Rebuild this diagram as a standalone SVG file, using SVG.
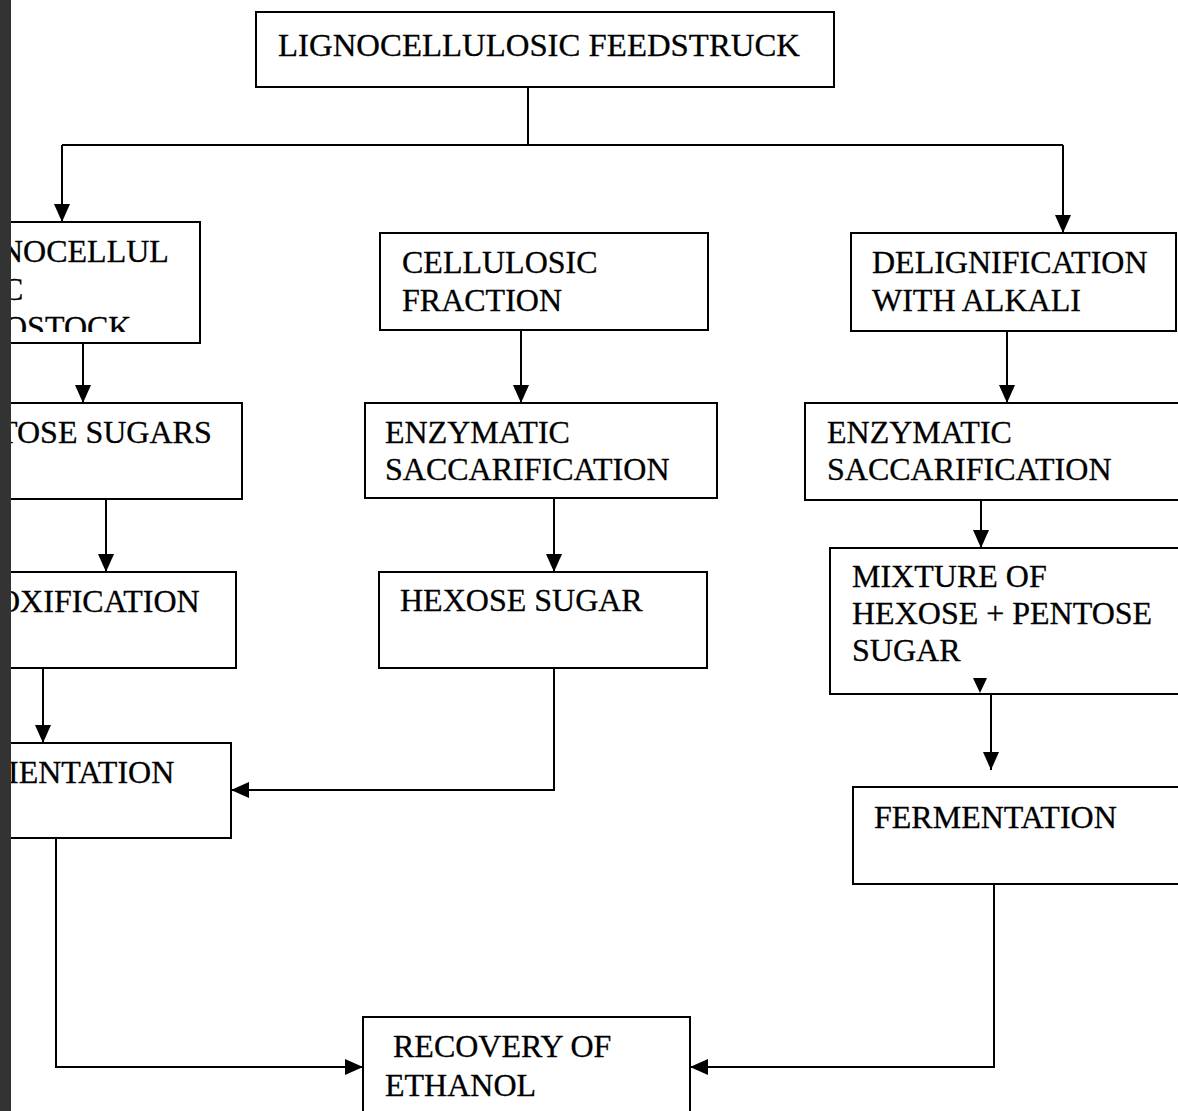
<svg xmlns="http://www.w3.org/2000/svg" width="1178" height="1111" viewBox="0 0 1178 1111">
<style>
.box{fill:#fff;stroke:#000;stroke-width:2}
.t{font-family:"Liberation Serif","Times New Roman",serif;font-size:32px;fill:#000;stroke:#000;stroke-width:0.3}
.c{fill:none;stroke:#000;stroke-width:2}
</style>
<defs>
<marker id="ah" markerUnits="userSpaceOnUse" markerWidth="18" markerHeight="16" refX="18" refY="8" orient="auto">
<path d="M0,0 L18,8 L0,16 Z" fill="#000"/>
</marker>
<clipPath id="clip1"><rect x="0" y="222" width="200" height="110"/></clipPath>
</defs>
<rect width="1178" height="1111" fill="#fff"/>
<g id="connectors">
<path class="c" d="M528,87 V145"/>
<path class="c" d="M62,145 H1063"/>
<path class="c" d="M62,145 V222" marker-end="url(#ah)"/>
<path class="c" d="M1063,145 V233" marker-end="url(#ah)"/>
<path class="c" d="M83,343 V403" marker-end="url(#ah)"/>
<path class="c" d="M106,499 V572" marker-end="url(#ah)"/>
<path class="c" d="M43,668 V743" marker-end="url(#ah)"/>
<path class="c" d="M521,330 V403" marker-end="url(#ah)"/>
<path class="c" d="M554,498 V572" marker-end="url(#ah)"/>
<path class="c" d="M554,668 V790 H231" marker-end="url(#ah)"/>
<path class="c" d="M1007,331 V403" marker-end="url(#ah)"/>
<path class="c" d="M981,500 V548" marker-end="url(#ah)"/>
<path class="c" d="M991,694 V770" marker-end="url(#ah)"/>
<path class="c" d="M56,838 V1067 H363" marker-end="url(#ah)"/>
<path class="c" d="M994,870 V1067 H690" marker-end="url(#ah)"/>
</g>
<g id="n-feedstock">
<rect class="box" x="256" y="12" width="578" height="75"/>
<text class="t" x="278" y="56" textLength="522" lengthAdjust="spacingAndGlyphs">LIGNOCELLULOSIC FEEDSTRUCK</text>
</g>
<g id="n-lignocellulosic">
<rect class="box" x="2" y="222" width="198" height="121"/>
<g clip-path="url(#clip1)">
<text class="t" x="0" y="262">NOCELLUL</text>
<text class="t" x="2" y="300">C</text>
<text class="t" x="4" y="338">OSTOCK</text>
</g>
</g>
<g id="n-pentose">
<rect class="box" x="2" y="403" width="240" height="96"/>
<text class="t" x="-2" y="443">TOSE SUGARS</text>
</g>
<g id="n-detox">
<rect class="box" x="2" y="572" width="234" height="96"/>
<text class="t" x="-3" y="612">OXIFICATION</text>
</g>
<g id="n-ferm-left">
<rect class="box" x="2" y="743" width="229" height="95"/>
<text class="t" x="8" y="783">IENTATION</text>
</g>
<g id="n-cellulosic">
<rect class="box" x="380" y="233" width="328" height="97"/>
<text class="t" x="402" y="273">CELLULOSIC</text>
<text class="t" x="402" y="311">FRACTION</text>
</g>
<g id="n-enz-mid">
<rect class="box" x="365" y="403" width="352" height="95"/>
<text class="t" x="385" y="443">ENZYMATIC</text>
<text class="t" x="385" y="480">SACCARIFICATION</text>
</g>
<g id="n-hexose">
<rect class="box" x="379" y="572" width="328" height="96"/>
<text class="t" x="400" y="611">HEXOSE SUGAR</text>
</g>
<g id="n-delig">
<rect class="box" x="851" y="233" width="325" height="98"/>
<text class="t" x="872" y="273">DELIGNIFICATION</text>
<text class="t" x="872" y="311">WITH ALKALI</text>
</g>
<g id="n-enz-right">
<rect class="box" x="805" y="403" width="380" height="97"/>
<text class="t" x="827" y="443">ENZYMATIC</text>
<text class="t" x="827" y="480">SACCARIFICATION</text>
</g>
<g id="n-mixture">
<rect class="box" x="830" y="548" width="355" height="146"/>
<text class="t" x="852" y="587">MIXTURE OF</text>
<text class="t" x="852" y="624">HEXOSE + PENTOSE</text>
<text class="t" x="852" y="661">SUGAR</text>
<path d="M973,678 L987,678 L980,693 Z" fill="#000"/>
</g>
<g id="n-ferm-right">
<rect class="box" x="853" y="787" width="332" height="97"/>
<text class="t" x="874" y="828">FERMENTATION</text>
</g>
<g id="n-recovery">
<rect class="box" x="363" y="1017" width="327" height="100"/>
<text class="t" x="393" y="1057">RECOVERY OF</text>
<text class="t" x="385" y="1096">ETHANOL</text>
</g>
<rect x="0" y="0" width="11" height="1111" fill="#333"/>
</svg>
